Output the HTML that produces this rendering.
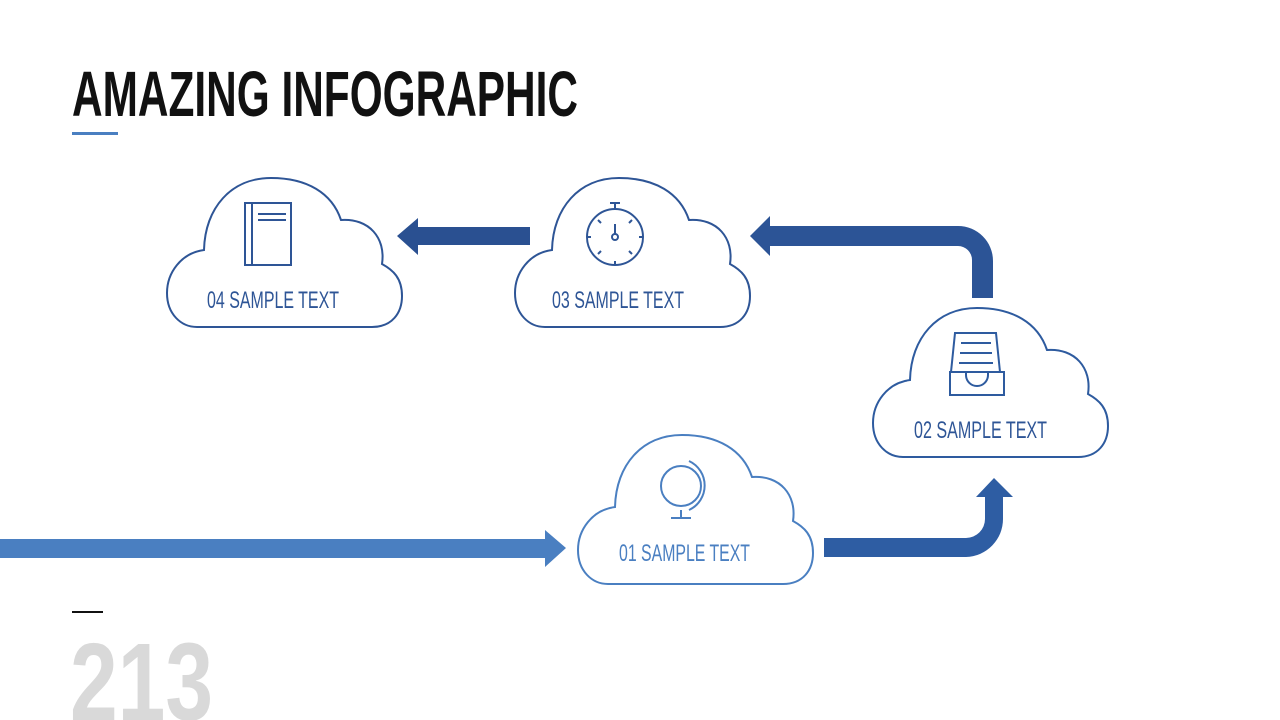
<!DOCTYPE html>
<html><head><meta charset="utf-8"><style>
html,body{margin:0;padding:0;background:#fff;width:1280px;height:720px;overflow:hidden}
svg{display:block}
</style></head><body>
<svg width="1280" height="720" viewBox="0 0 1280 720" xmlns="http://www.w3.org/2000/svg">
<defs>
<path id="cloud" d="M30,149 L205,149 C225,149 235,135 235,118 C235,100 226,92 215,86 C219,60 202,40 174,42 C165,15 140,0 104,0 C64,0 38,30 37,72 C14,75 0,95 0,115 C0,136 14,149 30,149 Z" fill="#fff" stroke-width="2"/>
</defs>
<!-- Title -->
<text x="72" y="116" font-family="Liberation Sans, sans-serif" font-weight="bold" font-size="64" textLength="506" lengthAdjust="spacingAndGlyphs" fill="#111">AMAZING INFOGRAPHIC</text>
<rect x="72" y="132" width="46" height="3" fill="#4a7fc1"/>
<rect x="72" y="611" width="31" height="2" fill="#111"/>
<text x="70" y="720" font-family="Liberation Sans, sans-serif" font-weight="bold" font-size="110" textLength="143" lengthAdjust="spacingAndGlyphs" fill="#d9d9d9">213</text>

<!-- Arrows -->
<polygon points="0,539 545,539 545,530 566,548 545,567 545,558 0,558" fill="#4a7fc1"/>
<path d="M824,538 H966 A19,19 0 0 0 985,519 V497 H976 L994,478 L1013,497 H1003 V519 A38,38 0 0 1 966,557 H824 Z" fill="#2e5da3"/>
<path d="M993,298 H972 V260 A14,14 0 0 0 958,246 H770 V256 L750,236 L770,216 V226 H958 A35,35 0 0 1 993,261 Z" fill="#2c5496"/>
<polygon points="530,227 418,227 418,218 397,236 418,255 418,245 530,245" fill="#2a5091"/>

<!-- Clouds -->
<use href="#cloud" x="167" y="178" stroke="#2e5596"/>
<use href="#cloud" x="515" y="178" stroke="#2e5596"/>
<use href="#cloud" x="873" y="308" stroke="#2e5b9f"/>
<use href="#cloud" x="578" y="435" stroke="#4a7fc1"/>

<!-- Labels -->
<g font-family="Liberation Sans, sans-serif" font-size="24" fill="#2e5596">
<text x="207" y="308" textLength="132" lengthAdjust="spacingAndGlyphs">04 SAMPLE TEXT</text>
<text x="552" y="308" textLength="132" lengthAdjust="spacingAndGlyphs">03 SAMPLE TEXT</text>
<text x="914" y="438" textLength="133" lengthAdjust="spacingAndGlyphs">02 SAMPLE TEXT</text>
<text x="619" y="561" textLength="131" lengthAdjust="spacingAndGlyphs" fill="#4a7fc1">01 SAMPLE TEXT</text>
</g>

<!-- Icons -->
<g fill="none" stroke="#2e5596" stroke-width="2">
<!-- book -->
<rect x="245" y="203" width="46" height="62"/>
<line x1="252" y1="203" x2="252" y2="265"/>
<line x1="258" y1="214" x2="286" y2="214"/>
<line x1="258" y1="220" x2="286" y2="220"/>
<!-- stopwatch -->
<circle cx="615" cy="237" r="28"/>
<line x1="615" y1="203" x2="615" y2="209"/>
<line x1="610" y1="203" x2="620" y2="203"/>
<line x1="615" y1="224" x2="615" y2="234"/>
<circle cx="615" cy="237" r="3"/>
<line x1="587" y1="237" x2="591" y2="237"/><line x1="639" y1="237" x2="643" y2="237"/>
<line x1="615" y1="261" x2="615" y2="265"/>
<line x1="598" y1="220" x2="601" y2="223"/><line x1="632" y1="220" x2="629" y2="223"/>
<line x1="598" y1="254" x2="601" y2="251"/><line x1="632" y1="254" x2="629" y2="251"/>
</g>
<g fill="none" stroke="#2e5b9f" stroke-width="2">
<!-- tray -->
<polygon points="955,333 996,333 1000,372 951,372"/>
<rect x="950" y="372" width="54" height="23"/>
<line x1="961" y1="343" x2="991" y2="343"/>
<line x1="960" y1="353" x2="992" y2="353"/>
<line x1="959" y1="363" x2="993" y2="363"/>
<path d="M966,372 V375 A11,11 0 0 0 988,375 V372"/>
</g>
<g fill="none" stroke="#4a7fc1" stroke-width="2">
<!-- globe -->
<circle cx="681" cy="486" r="20"/>
<path d="M689,461 A27,27 0 0 1 689,510"/>
<line x1="681" y1="510" x2="681" y2="518"/>
<line x1="671" y1="518" x2="691" y2="518"/>
</g>
</svg>
</body></html>
